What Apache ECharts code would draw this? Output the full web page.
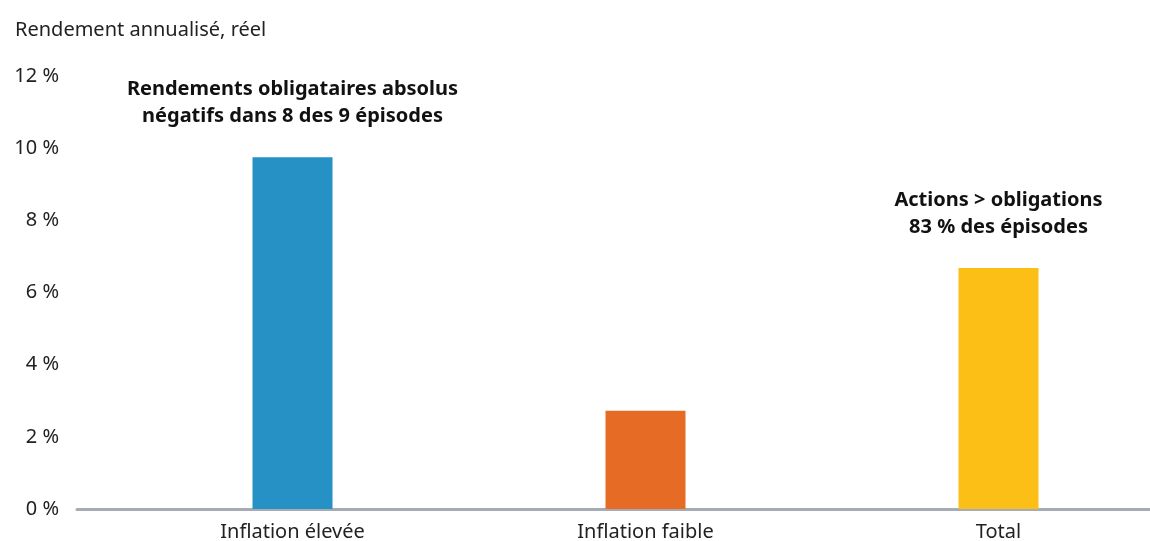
<!DOCTYPE html>
<html><head><meta charset="utf-8">
<script src="https://cdn.jsdelivr.net/npm/echarts@6/dist/echarts.min.js"></script>
<style>html,body{margin:0;padding:0;background:#fff}#c{width:1150px;height:541px}</style>
</head><body><div id="c"></div>
<script>
const categories = ['Inflation élevée', 'Inflation faible', 'Total'];
const values = [9.75, 2.72, 6.68];
const colors = ['#2691c5', '#e66b24', '#fbbf15'];
const annotations = ['Rendements obligataires absolus\nnégatifs dans 8 des 9 épisodes', '', 'Actions > obligations\n83 % des épisodes'];
const yTicks = [0, 2, 4, 6, 8, 10, 12];

const FONT = '"Noto Sans", sans-serif';
const chart = echarts.init(document.getElementById('c'));
chart.setOption({
  animation: false,
  title: {
    text: 'Rendement annualisé, réel', left: 10, top: 15,
    textStyle: { fontFamily: FONT, fontSize: 20, fontWeight: 'normal', color: '#222' }
  },
  grid: [
    { left: 116, right: -25, top: 76, bottom: 32, containLabel: false, outerBoundsMode: 'none' },
    { left: 77, right: 0, top: 76, bottom: 32, containLabel: false, outerBoundsMode: 'none' }
  ],
  xAxis: [
    {
      type: 'category', data: categories, gridIndex: 0,
      axisLine: { show: false }, axisTick: { show: false },
      axisLabel: { margin: 13, fontFamily: FONT, fontSize: 20, color: '#222' }
    },
    {
      type: 'value', gridIndex: 1, min: 0, max: 1,
      axisLine: { show: true, onZero: true, lineStyle: { color: '#a7abb3', width: 3 } },
      axisTick: { show: false }, axisLabel: { show: false }, splitLine: { show: false }
    }
  ],
  yAxis: [
    {
      type: 'value', gridIndex: 0, min: yTicks[0], max: yTicks[yTicks.length - 1], interval: 2,
      axisLine: { show: false }, axisTick: { show: false }, splitLine: { show: false },
      axisLabel: { margin: 57, fontFamily: FONT, fontSize: 20, color: '#222', formatter: v => v + ' %' }
    },
    {
      type: 'value', gridIndex: 1, min: 0, max: 12, show: false
    }
  ],
  series: [
    {
      type: 'bar', xAxisIndex: 0, yAxisIndex: 0, barWidth: 80,
      data: values.map((v, i) => ({
        value: v,
        itemStyle: { color: colors[i] },
        label: {
          show: annotations[i] !== '', position: 'top', distance: 27,
          formatter: annotations[i], fontFamily: FONT, fontSize: 20, fontWeight: 'bold',
          color: '#111', lineHeight: 27, align: 'center'
        }
      }))
    },
    {
      type: 'line', xAxisIndex: 1, yAxisIndex: 1, data: [], silent: true
    }
  ]
});
</script></body></html>
